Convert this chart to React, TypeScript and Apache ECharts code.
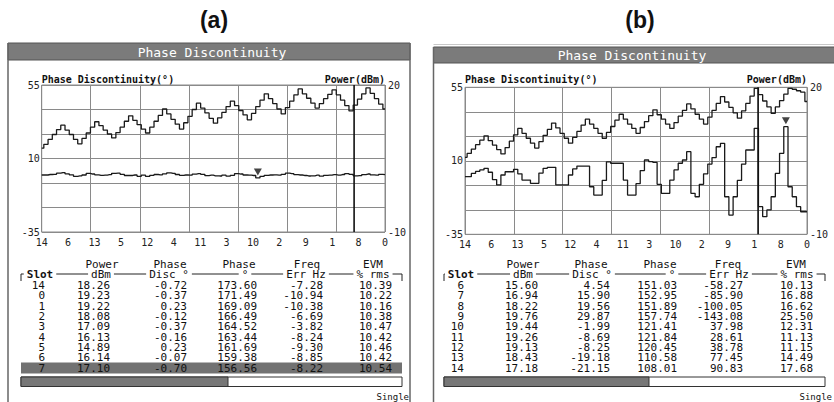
import React, { useEffect, useRef } from "react";
import * as echarts from "echarts";

// ---------- axis data ----------
const slotTickLabels = ["14", "6", "13", "5", "12", "4", "11", "3", "10", "2", "9", "1", "8", "0"];
const phaseAxisLabels = [55, 10, -35];
const powerAxisLabels = [20, -10];

// ---------- traces (a) ----------
const powerTraceA = [
  7.1, 7.9, 8.9, 9.9, 10.9, 11.8, 10.8, 9.9, 8.9, 8.0,
  9.1, 10.2, 11.4, 12.5, 11.7, 10.8, 10.0, 9.2, 10.3, 11.4,
  12.6, 13.7, 12.8, 11.9, 11.0, 10.2, 11.4, 12.6, 13.8, 15.1,
  14.1, 13.0, 12.0, 11.0, 12.3, 13.6, 15.0, 16.3, 15.3, 14.3,
  13.2, 12.2, 13.3, 14.4, 15.6, 16.7, 15.8, 14.8, 13.9, 12.9,
  14.2, 15.6, 16.9, 18.2, 17.2, 16.2, 15.1, 14.1, 15.4, 16.7,
  18.0, 19.2, 18.2, 17.3, 16.3, 15.3, 16.2, 17.2, 18.1, 19.0,
  18.0, 16.9, 15.8, 14.7, 15.9, 17.1, 18.2, 19.4, 18.3, 17.2,
  16.1, 15.1,
];
const phaseTraceA = [
  -0.1, -0.1, 0.2, 0.3, 1.0, 1.4, 0.6, 0.0, -0.9, -0.6,
  -0.1, 0.9, 0.5, 0.0, -0.3, -0.2, 0.1, 0.9, 1.0, 0.3,
  -0.4, -0.4, -0.1, -0.9, -0.2, -1.0, -0.3, 0.2, 0.0, 0.6,
  1.2, 0.9, 0.2, -0.3, -0.1, -0.2, 0.4, 0.8, 0.3, -0.5,
  -0.2, -0.6, -0.7, -0.2, -0.8, -0.3, 0.8, 0.5, -0.1, -0.2,
  -0.4, -1.9, -0.9, -0.3, -0.1, 0.0, -0.2, 0.3, 1.0, 0.7,
  0.1, -0.1, -0.4, -0.7, -0.6, -0.2, -0.8, -0.3, -0.2, 0.1,
  -0.2, 0.2, 0.8, 0.3, -0.6, -0.5, 0.1, 0.5, 0.0, -0.2,
  0.3, 0.1,
];
const markerLineA = 11.83; // position on the slot axis
const markerPointA = 51; // trace index of the marker triangle

// ---------- traces (b) ----------
const powerTraceB = [
  5.7, 6.5, 7.4, 8.3, 9.2, 10.1, 9.1, 8.2, 7.3, 6.4,
  7.7, 9.0, 10.3, 11.6, 10.6, 9.6, 8.6, 7.6, 8.9, 10.2,
  11.4, 12.7, 11.7, 10.6, 9.6, 8.6, 9.8, 11.0, 12.3, 13.5,
  12.5, 11.6, 10.6, 9.6, 10.8, 12.0, 13.3, 14.5, 13.5, 12.5,
  11.6, 10.6, 11.8, 13.0, 14.2, 15.4, 14.4, 13.5, 12.5, 11.6,
  12.8, 14.1, 15.3, 16.6, 15.6, 14.5, 13.5, 12.5, 13.9, 15.3,
  16.7, 18.1, 17.0, 15.9, 14.8, 13.7, 15.2, 16.7, 18.2, 19.8,
  18.5, 17.2, 16.0, 14.7, 16.0, 17.3, 18.6, 19.8, 19.6, 19.3,
  19.0, 17.1,
];
const phaseTraceB = [
  0.3, 0.3, 2.3, 3.5, 4.4, 5.4, 3.0, -1.5, -4.8, 1.3,
  3.3, 3.3, 4.8, 2.0, -1.8, -1.8, -3.8, -3.8, 2.5, 5.4,
  6.0, 6.0, -4.8, -4.8, -4.8, 1.3, 5.0, 6.8, 6.8, 6.8,
  -5.9, -11.0, -11.0, -2.0, 9.4, 8.5, 8.5, 8.5, -1.8, -11.0,
  -11.0, -4.0, 4.0, 10.5, 9.5, 9.0, -4.4, -9.9, -9.9, -1.8,
  4.4, 8.5, 10.5, 15.6, -9.9, -12.0, -4.4, 2.0, 8.0, 12.0,
  18.6, 20.7, -12.0, -23.2, -12.0, -2.0, 8.0, 16.6, 16.6, 29.9,
  -18.1, -24.2, -20.1, -12.0, 2.3, 14.6, 30.9, -5.9, -12.0, -18.1,
  -21.2, -21.2,
];
const markerLineB = 11.14;
const markerPointB = 76;

// ---------- tables ----------
const tableHeadTop = ["Power", "Phase", "Phase", "Freq", "EVM"];
const tableHeadUnits = ["Slot", "dBm", "Disc °", "°", "Err Hz", "% rms"];

const slotsA = ["14", "0", "1", "2", "3", "4", "5", "6", "7"];
const powerA = [18.26, 19.23, 19.22, 18.08, 17.09, 16.13, 14.89, 16.14, 17.1];
const discA = [-0.72, -0.37, 0.23, -0.12, -0.37, -0.16, 0.23, -0.07, -0.7];
const phaseA = [173.6, 171.49, 169.09, 166.49, 164.52, 163.44, 161.69, 159.38, 156.56];
const freqA = [-7.28, -10.94, -10.38, -6.69, -3.82, -8.24, -9.3, -8.85, -8.22];
const evmA = [10.39, 10.22, 10.16, 10.38, 10.47, 10.42, 10.46, 10.42, 10.54];
const highlightRowA = 8;

const slotsB = ["6", "7", "8", "9", "10", "11", "12", "13", "14"];
const powerB = [15.6, 16.94, 18.22, 19.76, 19.44, 19.26, 19.13, 18.43, 17.18];
const discB = [4.54, 15.9, 19.56, 29.87, -1.99, -8.69, -8.25, -19.18, -21.15];
const phaseB = [151.03, 152.95, 151.89, 157.74, 121.41, 121.84, 120.45, 110.58, 108.01];
const freqB = [-58.27, -85.9, -100.05, -143.08, 37.98, 28.61, 38.78, 77.45, 90.83];
const evmB = [10.13, 16.88, 16.62, 25.5, 12.31, 11.13, 11.15, 14.49, 17.68];
const highlightRowB = -1;

const mono = "'DejaVu Sans Mono', 'Liberation Mono', monospace";
const GRID = "#8a8a8a";
const INK = "#1a1a1a";

const panels = [
  {
    label: "(a)", labelCX: 214, frameX: 8, frameR: 410, frameY: 43, titleH: 17, titleCX: 212,
    grid: { left: 41.7, top: 85, width: 343.3, height: 147 },
    headTopCX: [102, 170, 239, 307, 373],
    headUnitCX: [40, 101, 169, 245, 306, 373],
    colRight: [45, 110, 187, 257, 323, 392],
    tableL: 21, tableR: 402, progressW: 207, singleR: 409,
    power: powerTraceA, phase: phaseTraceA, markerLine: markerLineA, markerPoint: markerPointA,
    rows: [slotsA, powerA, discA, phaseA, freqA, evmA], highlight: highlightRowA,
  },
  {
    label: "(b)", labelCX: 640, frameX: 433.5, frameR: 900, frameY: 47, titleH: 16, titleCX: 632,
    grid: { left: 465, top: 87.3, width: 342, height: 147 },
    headTopCX: [523, 591, 660, 728, 796],
    headUnitCX: [461, 523, 592, 672, 729, 797],
    colRight: [464, 538, 610, 677, 743, 813],
    tableL: 444, tableR: 825, progressW: 205, singleR: 832,
    power: powerTraceB, phase: phaseTraceB, markerLine: markerLineB, markerPoint: markerPointB,
    rows: [slotsB, powerB, discB, phaseB, freqB, evmB], highlight: highlightRowB,
  },
];

const line = (x1: number, y1: number, x2: number, y2: number, stroke = "#222", w = 1, z = 5) => ({
  type: "line", silent: true, z, shape: { x1, y1, x2, y2 }, style: { stroke, lineWidth: w },
});
const rect = (x: number, y: number, w: number, h: number, style: any, z = 1) => ({
  type: "rect", silent: true, z, shape: { x, y, width: w, height: h }, style,
});
const text = (x: number, y: number, s: string, o: any = {}) => {
  const size = o.size ?? 10;
  const align = o.align ?? "left";
  const font = `${o.bold ? "bold " : ""}${size}px ${o.family ?? mono}`;
  return {
    type: "text", silent: true, z: 20, x, y, scaleX: o.sx ?? 1,
    style: { text: s, fill: o.fill ?? "#111", font, textAlign: align, textVerticalAlign: "middle", align, verticalAlign: "middle" },
  };
};

function buildGraphic() {
  const g: any[] = [];
  const CW = 6.62;
  panels.forEach((p) => {
    // caption
    g.push(text(p.labelCX, 20, p.label, { size: 23, bold: true, align: "center", family: "'Liberation Sans', Arial, sans-serif", fill: "#111" }));
    // frame
    const tw = Math.min(p.frameR, 834) - p.frameX;
    g.push(rect(p.frameX, p.frameY, tw + (p.frameR > 834 ? 5 : 0), p.titleH, { fill: "#7b7b7b", stroke: "#555", lineWidth: 1 }));
    g.push(line(p.frameX, p.frameY, p.frameX, 402, "#666", 1.5));
    if (p.frameR <= 834) g.push(line(p.frameR, p.frameY, p.frameR, 402, "#666", 1.5));
    else g.push(line(p.frameX, p.frameY - 2.5, 834, p.frameY - 2.5, "#c8c8c8", 1));
    g.push(text(p.titleCX, p.frameY + p.titleH / 2 + 0.5, "Phase Discontinuity", { size: 13, align: "center", fill: "#fff" }));
    // axis names
    g.push(text(p.grid.left, 79, "Phase Discontinuity(°)", { size: 10, bold: true }));
    g.push(text(p.grid.left + p.grid.width, 79, "Power(dBm)", { size: 10, bold: true, align: "right" }));
    // table header
    tableHeadTop.forEach((h, i) => g.push(text(p.headTopCX[i], 264, h, { align: "center", sx: 1.1 })));
    let cur = p.tableL;
    const ry = 274;
    tableHeadUnits.forEach((h, i) => {
      g.push(text(p.headUnitCX[i], ry, h, { align: "center", bold: i === 0, sx: 1.1 }));
      const w = h.length * CW;
      const s = p.headUnitCX[i] - w / 2 - 3;
      if (s > cur) g.push(line(cur, ry, s, ry, "#222", 1));
      cur = p.headUnitCX[i] + w / 2 + 3;
    });
    g.push(line(cur, ry, p.tableR, ry, "#222", 1));
    g.push(line(p.tableL, ry, p.tableL, ry + 7, "#222", 1));
    g.push(line(p.tableR, ry, p.tableR, ry + 7, "#222", 1));
    // rows
    const n = p.rows[0].length;
    for (let r = 0; r < n; r++) {
      const y = 285 + r * 10.35;
      if (r === p.highlight) g.push(rect(p.tableL, y - 5.3, p.tableR - p.tableL, 11, { fill: "#727272" }, 2));
      p.rows.forEach((col: any[], c: number) => {
        const v = col[r];
        const s = typeof v === "number" ? v.toFixed(2) : v;
        g.push(text(p.colRight[c], y, s, { align: "right", sx: 1.1 }));
      });
    }
    // progress bar
    g.push(rect(p.tableL, 377, p.tableR - p.tableL, 9.5, { fill: "#fff", stroke: "#333", lineWidth: 1 }, 2));
    g.push(rect(p.tableL, 377, p.progressW, 9.5, { fill: "#777", stroke: "#333", lineWidth: 1 }, 3));
    g.push(text(p.singleR, 397, "Single", { size: 9, align: "right" }));
  });
  return g;
}

function buildOption() {
  const grid: any[] = [];
  const xAxis: any[] = [];
  const yAxis: any[] = [];
  const series: any[] = [];
  panels.forEach((p, i) => {
    grid.push({ ...p.grid, show: true, borderColor: GRID, borderWidth: 1, backgroundColor: "transparent" });
    xAxis.push(
      { type: "category", gridIndex: i, position: "top", data: p.power.map((_, k) => k), show: false, boundaryGap: false },
      {
        type: "value", gridIndex: i, position: "bottom", min: 0, max: 13, interval: 1,
        axisLine: { show: false }, axisTick: { show: false }, splitLine: { show: false },
        axisLabel: {
          formatter: (v: number) => slotTickLabels[Math.round(v)] ?? "",
          showMinLabel: true, showMaxLabel: true,
          fontSize: 10, fontFamily: mono, color: "#222", margin: 5,
        },
      },
      {
        type: "value", gridIndex: i, position: "top", min: 0, max: 7, interval: 1,
        axisLine: { show: false }, axisTick: { show: false }, axisLabel: { show: false },
        splitLine: { show: true, lineStyle: { color: GRID, width: 1 } },
      }
    );
    yAxis.push(
      {
        type: "value", gridIndex: i, min: -35, max: 55, position: "left",
        axisLine: { show: false }, axisTick: { show: false }, splitLine: { show: false },
        axisLabel: { customValues: phaseAxisLabels, fontSize: 10, fontFamily: mono, color: "#222", margin: 2 },
      },
      {
        type: "value", gridIndex: i, min: -10, max: 20, interval: 5, position: "right",
        axisLine: { show: false }, axisTick: { show: false },
        splitLine: { show: true, lineStyle: { color: GRID, width: 1 } },
        axisLabel: {
          formatter: (v: number) => (powerAxisLabels.includes(v) ? String(v) : ""),
          showMinLabel: true, showMaxLabel: true,
          fontSize: 10, fontFamily: mono, color: "#222", margin: 3,
        },
      }
    );
    const xb = i * 3;
    const yb = i * 2;
    series.push(
      {
        type: "line", xAxisIndex: xb, yAxisIndex: yb + 1, data: p.power, step: "middle",
        symbol: "none", silent: true, lineStyle: { color: INK, width: 1.3 }, z: 3,
      },
      {
        type: "line", xAxisIndex: xb, yAxisIndex: yb, data: p.phase, step: "middle",
        symbol: "none", silent: true, lineStyle: { color: INK, width: 1.3 }, z: 3,
        markPoint: {
          silent: true, symbol: "triangle", symbolSize: [8, 7], symbolRotate: 180, symbolOffset: [0, -6],
          itemStyle: { color: "#444" }, label: { show: false },
          data: [{ coord: [p.markerPoint, p.phase[p.markerPoint]] }],
        },
      },
      {
        type: "line", xAxisIndex: xb + 1, yAxisIndex: yb, data: [[p.markerLine, -35], [p.markerLine, 55]],
        symbol: "none", silent: true, lineStyle: { color: "#111", width: 1.6 }, z: 4,
      }
    );
  });
  return {
    animation: false,
    backgroundColor: "#fff",
    grid, xAxis, yAxis, series,
    graphic: { elements: buildGraphic() },
  };
}

export default function App() {
  const ref = useRef<HTMLDivElement>(null);
  useEffect(() => {
    if (!ref.current) return;
    const chart = echarts.init(ref.current, undefined, { renderer: "svg" });
    chart.setOption(buildOption() as any);
    return () => chart.dispose();
  }, []);
  return <div ref={ref} style={{ position: "absolute", left: 0, top: 0, width: 834, height: 402 }} />;
}
